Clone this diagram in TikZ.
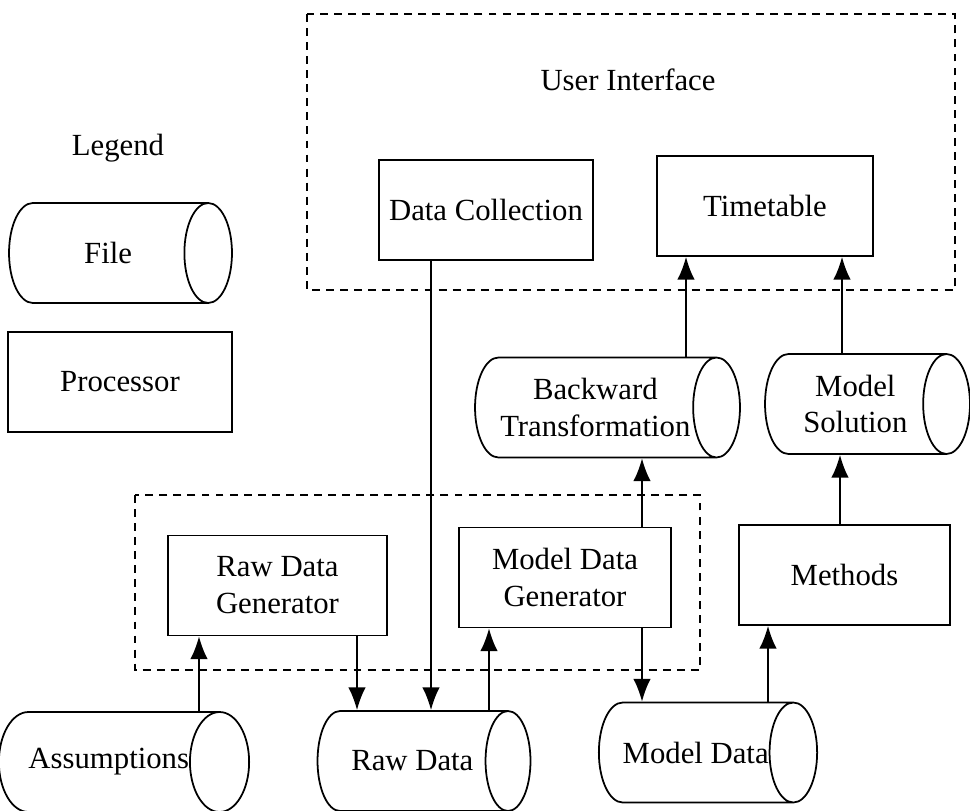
\documentclass[tikz,border=0pt]{standalone}
\usepackage{fontspec}
\setmainfont{Liberation Serif}
\usetikzlibrary{shapes.geometric,arrows.meta}

\begin{document}
\begin{tikzpicture}
[
    x=0.02cm, y=-0.02cm,
    every node/.style={font=\fontsize{17.5}{21}\selectfont, inner sep=0pt},
    proc/.style={draw, line width=1pt, align=center, minimum width=#1, minimum height=2cm},
    file/.style={cylinder, draw, line width=1pt, align=center, anchor=shape center,
        shape aspect=2.2, minimum height=#1, minimum width=2cm},
    arr/.style={line width=1pt, -{Latex[length=13pt, width=10pt]}},
    group/.style={line width=1.1pt, dash pattern=on 4.5pt off 3.5pt},
]
\useasboundingbox (0,0) rectangle (970,811);

% groups
\draw [group] (307,14) rectangle (955,290);
\draw [group] (135,495) rectangle (700,670);
\node (ui) at (628,80) {User Interface};

% legend
\node (legend) at (118,148) {Legend};
\node [file=4.46cm] (fileleg) at (120.5,253) {File};
\node [proc=4.48cm] (procleg) at (120,382) {Processor};

% processors
\node [proc=4.28cm] (datacol) at (486,210) {Data Collection};
\node [proc=4.32cm] (timetab) at (765,206) {Timetable};
\node [proc=4.38cm] (rdgen) at (277.5,585.5) {Raw Data\\Generator};
\node [proc=4.24cm] (mdgen) at (565,577.5) {Model Data\\Generator};
\node [proc=4.22cm] (methods) at (844.5,575) {Methods};

% files
\node [file=5.3cm, shape aspect=.8] (backtr) at (607.5,407.5) {Backward\\Transformation};
\node [file=4.1cm, shape aspect=.8] (modsol) at (867.5,404) {Model\\Solution};
\node [file=5cm] (assump) at (124,762) {Assumptions};
\node [file=4.26cm] (rawdata) at (424,761) {Raw Data};
\node [file=4.24cm] (moddata) at (708,752.5) {Model Data};

% flows
\draw [arr] (datacol.south -| 431,0) -- (rawdata.north -| 431,0);
\draw [arr] (rdgen.south -| 357,0) -- (rawdata.north -| 357,0);
\draw [arr] (assump.north -| 199,0) -- (rdgen.south -| 199,0);
\draw [arr] (rawdata.north -| 489,0) -- (mdgen.south -| 489,0);
\draw [arr] (mdgen.south -| 642,0) -- (moddata.north -| 642,0);
\draw [arr] (mdgen.north -| 642,0) -- (backtr.south -| 642,0);
\draw [arr] (backtr.north -| 686,0) -- (timetab.south -| 686,0);
\draw [arr] (moddata.north -| 768,0) -- (methods.south -| 768,0);
\draw [arr] (methods.north -| 840,0) -- (modsol.south -| 840,0);
\draw [arr] (modsol.north -| 842,0) -- (timetab.south -| 842,0);
\end{tikzpicture}
\end{document}
